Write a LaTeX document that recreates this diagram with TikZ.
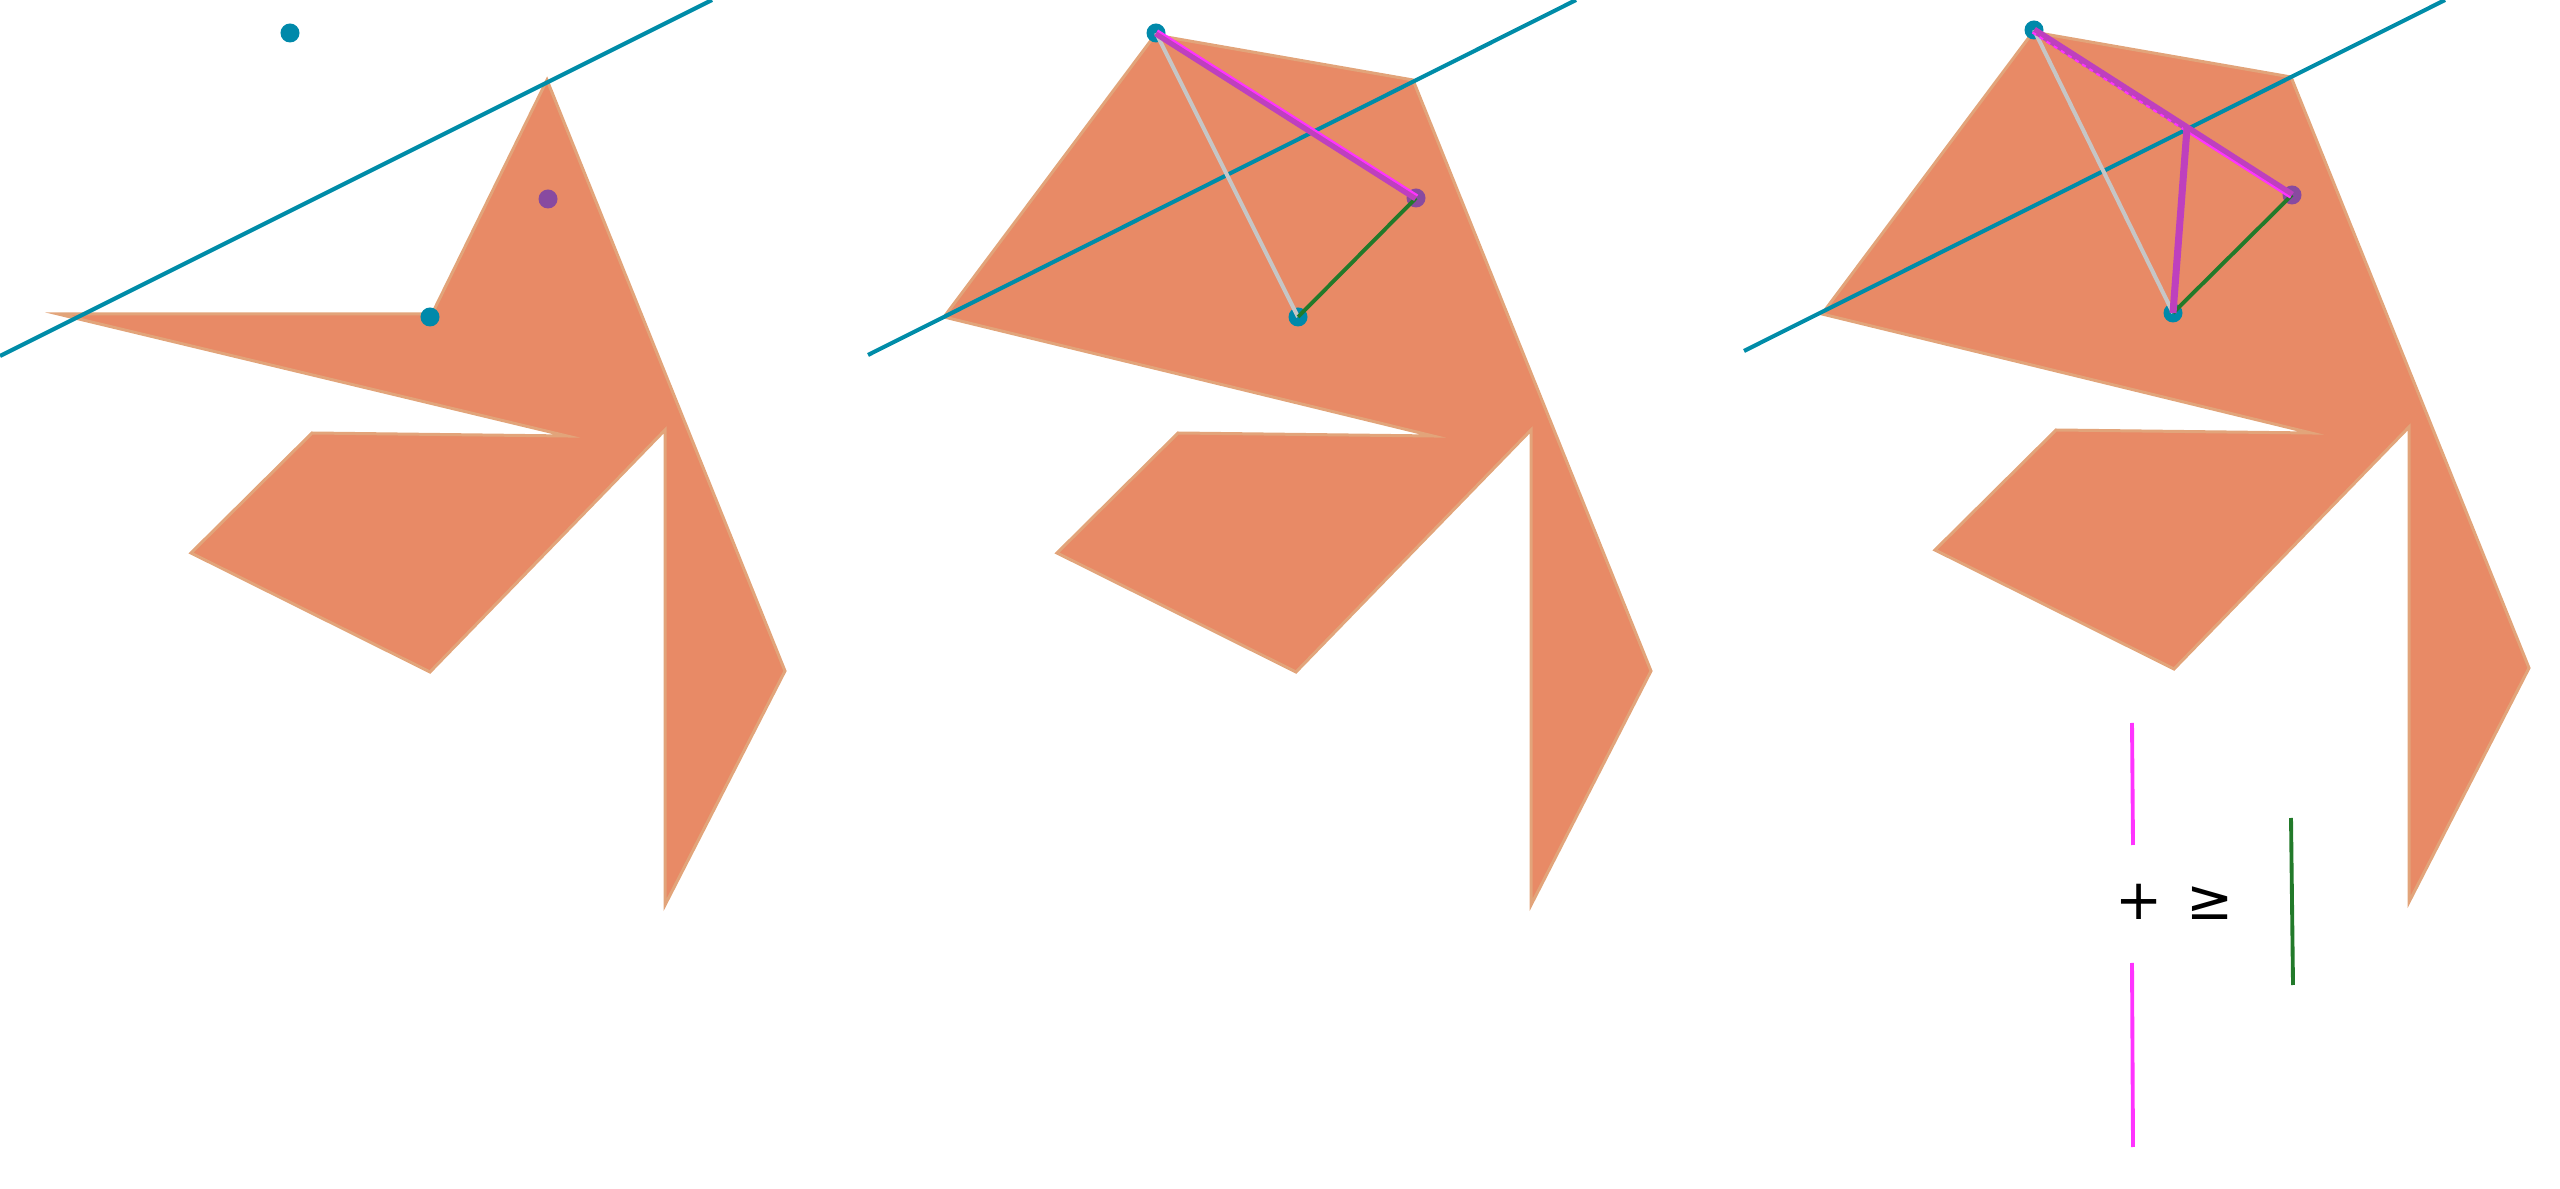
\documentclass[tikz,border=0pt]{standalone}
\usepackage{amsmath}
\usepackage{amssymb}
\usepackage{fontspec}
\usepackage{tikz}
\usetikzlibrary{calc}
\usetikzlibrary{scopes}
\newfontfamily\signfont{DejaVu Sans}
\definecolor{piecefill}{RGB}{232,138,102}
\definecolor{pieceedge}{RGB}{226,164,122}
\definecolor{foldcol}{RGB}{0,140,168}
\definecolor{dotteal}{RGB}{0,137,170}
\definecolor{dotpurple}{RGB}{136,74,160}
\definecolor{routecol}{RGB}{190,64,190}
\definecolor{hlcol}{RGB}{255,51,255}
\definecolor{greencol}{RGB}{34,122,42}
\definecolor{graycol}{RGB}{198,198,198}
\tikzset{piece/.style = {fill=piecefill, draw=pieceedge, line width=0.85pt, line join=miter}}
\tikzset{fold/.style = {draw=foldcol, line width=1.15pt}}
\tikzset{tdot/.style = {shape=circle, fill=dotteal, inner sep=0pt, minimum size=0.19cm}}
\tikzset{pdot/.style = {shape=circle, fill=dotpurple, inner sep=0pt, minimum size=0.19cm}}
\tikzset{grayseg/.style = {draw=graycol, line width=1.15pt}}
\tikzset{greenseg/.style = {draw=greencol, line width=1.1pt}}
\tikzset{route/.style = {draw=routecol, line width=2pt}}
\tikzset{highlight/.style = {draw=hlcol, line width=0.6pt}}
\tikzset{barpink/.style = {draw=hlcol, line width=1.1pt}}
\tikzset{bargreen/.style = {draw=greencol, line width=1.1pt}}
\tikzset{sign/.style = {inner sep=0pt, font=\signfont\fontsize{16}{18}\selectfont}}

\begin{document}
\begin{tikzpicture}[x=0.01cm, y=-0.01cm]
    \useasboundingbox (0,0) rectangle (2560,1189);

    \draw[piece] (58,314) -- (432,314) -- (547,80) -- (785,671) -- (665,905) -- (665,430)
        -- (430,672) -- (191,553) -- (312,433) -- (567,436) -- cycle;
    \draw[piece] (944,317) -- (1155,35) -- (1413,80) -- (1651,671) -- (1531,905) -- (1531,430)
        -- (1296,672) -- (1057,553) -- (1178,433) -- (1433,436) -- cycle;
    \draw[piece] (1822,314) -- (2033,32) -- (2291,77) -- (2529,668) -- (2409,902) -- (2409,427)
        -- (2174,669) -- (1935,550) -- (2056,430) -- (2311,433) -- cycle;

    \coordinate (F1a) at (0,356);
    \coordinate (F1b) at (712,0);
    \coordinate (F2a) at (868,355);
    \coordinate (F2b) at (1576,0);
    \coordinate (F3a) at (1744,351);
    \coordinate (F3b) at (2445,0);
    \draw[fold] (F1a) -- (F1b);
    \draw[fold] (F2a) -- (F2b);
    \draw[fold] (F3a) -- (F3b);

    \node[tdot] (A1) at (290,33) {};
    \node[tdot] (B1) at (430,317) {};
    \node[pdot] (P1) at (548,199) {};

    \node[tdot] (A2) at (1156,33) {};
    \node[tdot] (B2) at (1298,317) {};
    \node[pdot] (P2) at (1416,198) {};

    \node[tdot] (A3) at (2034,30) {};
    \node[tdot] (B3) at (2173,313) {};
    \node[pdot] (P3) at (2292,195) {};
    \coordinate (M3) at (2187,128);

    \draw[grayseg] (A2.center) -- (B2.center);
    \draw[greenseg] (B2.center) -- (P2.center);
    \draw[route] (A2.center) -- (P2.center);
    \draw[highlight] ([shift={(1.6,-2.5)}]A2.center) -- ([shift={(1.6,-2.5)}]P2.center);

    \draw[grayseg] (A3.center) -- (B3.center);
    \draw[greenseg] (B3.center) -- (P3.center);
    \draw[route] (A3.center) -- (P3.center);
    \draw[highlight, dash pattern=on 1.2pt off 1.2pt] ([shift={(-1.6,2.5)}]A3.center) -- ([shift={(-1.6,2.5)}]M3);
    \draw[highlight] ([shift={(-1.6,2.5)}]M3) -- ([shift={(-1.6,2.5)}]P3.center);
    \draw[route] (M3) -- (B3.center);

    \coordinate (m1a) at (2132,723);
    \coordinate (m1b) at (2133,845);
    \coordinate (m2a) at (2132,963);
    \coordinate (m2b) at (2133,1147);
    \coordinate (g1a) at (2291,818);
    \coordinate (g1b) at (2293,985);
    \draw[barpink] (m1a) -- (m1b);
    \draw[barpink] (m2a) -- (m2b);
    \draw[bargreen] (g1a) -- (g1b);
    \node[sign] (plus) at (2139,902) {+};
    \node[sign] (geq) at (2210,903) {≥};
\end{tikzpicture}
\end{document}
